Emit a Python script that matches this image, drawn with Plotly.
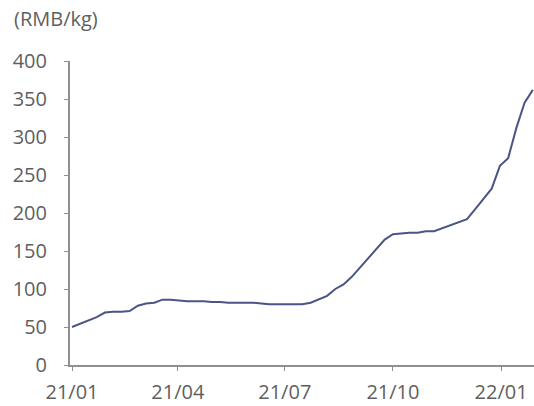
import pandas as pd
import plotly.graph_objects as go

# Weekly price series, starting 2021-01-01
start_date = "2021-01-01"
prices = [
    50, 54, 58, 63, 69, 70, 70, 71, 78, 81,
    82, 86, 86, 85, 84, 84, 84, 83, 83, 82,
    82, 82, 82, 81, 80, 80, 80, 80, 80, 82,
    86, 91, 100, 106, 116, 128, 140, 153, 165, 172,
    173, 174, 174, 176, 176, 180, 184, 188, 192, 205,
    218, 232, 262, 272, 312, 345, 362,
]
dates = pd.date_range(start_date, periods=len(prices), freq="7D")

y_ticks = [0, 50, 100, 150, 200, 250, 300, 350, 400]
unit_label = "(RMB/kg)"

axis_grey = "#8f8f8f"
text_grey = "#5f5f5f"
line_blue = "#4a5585"
font = dict(family="Open Sans, sans-serif", size=20, color=text_grey)

fig = go.Figure(
    go.Scatter(
        x=dates,
        y=prices,
        mode="lines",
        line=dict(color=line_blue, width=2),
        hoverinfo="skip",
    )
)

fig.update_layout(
    width=534,
    height=406,
    margin=dict(l=70, r=0, t=61, b=41),
    paper_bgcolor="white",
    plot_bgcolor="white",
    showlegend=False,
    font=font,
    annotations=[
        dict(
            text=unit_label,
            xref="paper", yref="paper",
            x=(12 - 70) / 464, y=1,
            xanchor="left", yanchor="bottom",
            yshift=27,
            showarrow=False,
            font=font,
        )
    ],
)

fig.update_xaxes(
    type="date",
    range=["2020-12-30 07:00", "2022-01-29"],
    tick0="2021-01-01",
    dtick="M3",
    tickformat="%y/%m",
    showgrid=False,
    zeroline=False,
    showline=True,
    linecolor=axis_grey,
    linewidth=2,
    ticks="outside",
    ticklen=4,
    tickcolor=axis_grey,
    tickfont=font,
    ticklabelstandoff=4,
)

fig.update_yaxes(
    range=[0, 400],
    tickvals=y_ticks,
    showgrid=False,
    zeroline=False,
    showline=True,
    linecolor=axis_grey,
    linewidth=2,
    ticks="outside",
    ticklen=4,
    tickcolor=axis_grey,
    tickfont=font,
    ticklabelstandoff=13,
)

fig.write_html("out.html")
